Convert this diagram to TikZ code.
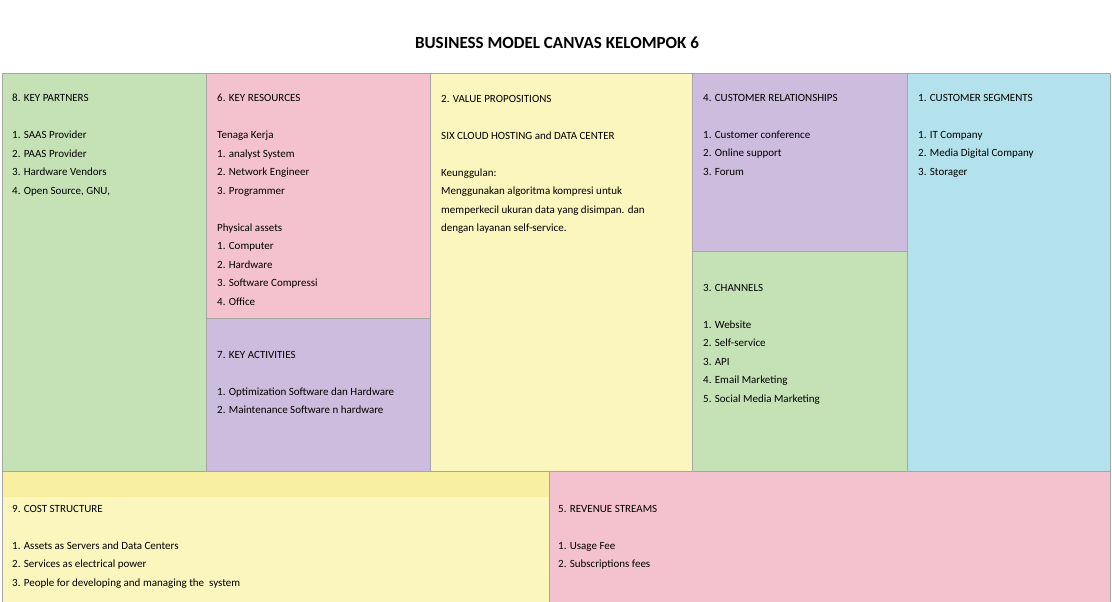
\documentclass[tikz,border=0pt]{standalone}
\usepackage{fontspec}
\setmainfont{Carlito}
\definecolor{cgreen}{HTML}{C5E2B7}
\definecolor{cpink}{HTML}{F4C2CE}
\definecolor{cpurple}{HTML}{CEBCDF}
\definecolor{cyellow}{HTML}{FBF5BE}
\definecolor{cband}{HTML}{F8F0A0}
\definecolor{cblue}{HTML}{B3E1EC}
\begin{document}
\begin{tikzpicture}[x=1pt,y=-1pt,
  cell/.style={draw=gray!70,line width=0.6pt},
  txt/.style={anchor=north west,align=left,inner sep=0pt,font=\fontsize{11}{18.5}\selectfont}]
\useasboundingbox (0,0) rectangle (1112,602);
\fill[white] (0,0) rectangle (1112,602);
\node[font=\fontsize{17}{20}\selectfont\bfseries] (title) at (557,43) {BUSINESS MODEL CANVAS KELOMPOK 6};
\filldraw[cell,fill=cgreen] (2,73) rectangle (206,471);
\filldraw[cell,fill=cpink] (206,73) rectangle (430,318);
\filldraw[cell,fill=cpurple] (206,318) rectangle (430,471);
\filldraw[cell,fill=cyellow] (430,73) rectangle (692,471);
\filldraw[cell,fill=cpurple] (692,73) rectangle (907,251);
\filldraw[cell,fill=cgreen] (692,251) rectangle (907,471);
\filldraw[cell,fill=cblue] (907,73) rectangle (1110,471);
\filldraw[cell,fill=cyellow] (2,471) rectangle (549,602);
\fill[cband] (2.5,471.5) rectangle (548.5,497);
\filldraw[cell,fill=cpink] (549,471) rectangle (1110,602);
\node[txt] (kp) at (12,94) {8. KEY PARTNERS\\[0pt]\\1. SAAS Provider\\2. PAAS Provider\\3. Hardware Vendors\\4. Open Source, GNU,};
\node[txt] (kr) at (217,94) {6. KEY RESOURCES\\\\Tenaga Kerja\\1. analyst System\\2. Network Engineer\\3. Programmer\\\\Physical assets\\1. Computer\\2. Hardware\\3. Software Compressi\\4. Office};
\node[txt] (ka) at (217,351) {7. KEY ACTIVITIES\\\\1. Optimization Software dan Hardware\\2. Maintenance Software n hardware};
\node[txt] (vp) at (441,95) {2. VALUE PROPOSITIONS\\\\SIX CLOUD HOSTING and DATA CENTER\\\\Keunggulan:\\Menggunakan algoritma kompresi untuk\\memperkecil ukuran data yang disimpan. dan\\dengan layanan self-service.};
\node[txt] (cr) at (703,94) {4. CUSTOMER RELATIONSHIPS\\\\1. Customer conference\\2. Online support\\3. Forum};
\node[txt] (ch) at (703,284) {3. CHANNELS\\\\1. Website\\2. Self-service\\3. API\\4. Email Marketing\\5. Social Media Marketing};
\node[txt] (cs) at (918,94) {1. CUSTOMER SEGMENTS\\\\1. IT Company\\2. Media Digital Company\\3. Storager};
\node[txt] (cost) at (12,505) {9. COST STRUCTURE\\\\1. Assets as Servers and Data Centers\\2. Services as electrical power\\3. People for developing and managing the\ \ system};
\node[txt] (rev) at (558,505) {5. REVENUE STREAMS\\\\1. Usage Fee\\2. Subscriptions fees};
\end{tikzpicture}
\end{document}
